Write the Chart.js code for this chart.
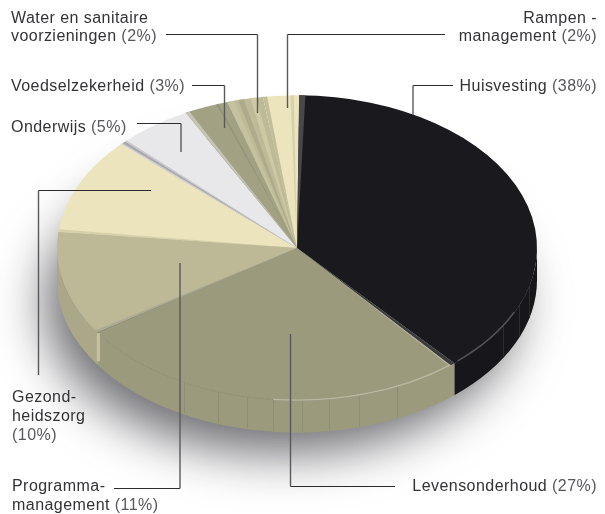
<!DOCTYPE html>
<html>
<head>
<meta charset="utf-8">
<style>
  html, body { margin: 0; padding: 0; background: #fff; }
  canvas { display: block; }
</style>
<script src="https://cdn.jsdelivr.net/npm/chart.js@4/dist/chart.umd.min.js"></script>
</head>
<body>
<canvas id="myChart" width="605" height="514"></canvas>
<script>
const categories = [
  "Huisvesting",
  "Levensonderhoud",
  "Programmamanagement",
  "Gezondheidszorg",
  "Onderwijs",
  "Voedselzekerheid",
  "Water en sanitaire voorzieningen",
  "Rampenmanagement",
];
// they round to the printed percentages
const shares = [38.4, 26.9, 11.1, 10.2, 5.4, 3.0, 2.4, 2.4];
const topColours = ["#1a191e", "#9b9a7d", "#bdb997", "#ebe4bc", "#e8e8ea", "#a3a183", "#bdba98", "#ebe4bc"];
const wallColours = ["#17161a", "#9b9a7d", "#aaa888", "#aaa888", "#aaa888", "#aaa888", "#aaa888", "#aaa888"];

// squash of the pie and height of its wall
const squash = 0.636;
const wallDepth = 31;

// thin bevels on the slices: slice index, offset and width in degrees, colour
const bevels = [
  [0, 0, 1.5, "#47474c"],
  [1, 0, 1.2, "#3b3b40"],
  [1, 1.2, 0.4, "#b3b29a"],
  [2, 0, 0.5, "#8f8e78"],
  [2, 0.5, 0.7, "#acaa94"],
  [3, 0, 1.0, "#d6d0ab"],
  [4, 0, 0.5, "#cfcfd2"],
  [4, 0.5, 0.9, "#a9a9ae"],
  [4, 1.4, 0.5, "#c8c8cc"],
  [5, 0, 1.0, "#c4c3b4"],
  [5, 8, 0.5, "#959378"],
  [6, 0, 1.6, "#c5c2a0"],
  [6, 2.6, 1.4, "#adab8b"],
  [6, 5.6, 1.4, "#cdc9a5"],
  [7, 0, 1.0, "#c2be9c"],
  [7, 6.6, 0.8, "#d6d1ac"],
];

// wall seams, by the x where they meet the rim
const tanSeams = [184, 218, 247, 273, 302, 329, 359, 397];
const blackSeams = [503, 519, 529];

// label rows: name part, percent part, x, baseline, side
const labelRows = [
  ["Water en sanitaire", "", 11, 23, "left"],
  ["voorzieningen", "(2%)", 11, 41, "left"],
  ["Voedselzekerheid", "(3%)", 11, 91, "left"],
  ["Onderwijs", "(5%)", 11, 132, "left"],
  ["Gezond-", "", 12, 402, "left"],
  ["heidszorg", "", 12, 421, "left"],
  ["", "(10%)", 12, 440, "left"],
  ["Programma-", "", 12, 491, "left"],
  ["management", "(11%)", 12, 510, "left"],
  ["Rampen -", "", 597, 23, "right"],
  ["management", "(2%)", 597, 41, "right"],
  ["Huisvesting", "(38%)", 597, 91, "right"],
  ["Levensonderhoud", "(27%)", 597, 491, "right"],
];

const leaderLines = [
  [[166, 34.5], [257.5, 34.5], [257.5, 113]],
  [[445, 34.5], [287.5, 34.5], [287.5, 108]],
  [[192, 85.5], [224.5, 85.5], [224.5, 128]],
  [[137, 123.5], [181, 123.5], [181, 152]],
  [[151, 190.5], [38.5, 190.5], [38.5, 375]],
  [[114, 488.5], [180, 488.5], [180, 263]],
  [[395, 486.5], [290.5, 486.5], [290.5, 334]],
  [[453, 85.5], [413, 85.5], [413, 115]],
];

const pie3d = {
  id: "pie3d",
  beforeDatasetsDraw(chart) {
    const ctx = chart.ctx;
    const arcs = chart.getDatasetMeta(0).data;
    const { x, y, outerRadius } = arcs[0];

    // soft shadow under the pie, the ellipse itself stays hidden behind it
    ctx.save();
    ctx.shadowColor = "rgba(20, 20, 28, 0.62)";
    ctx.shadowBlur = 50;
    ctx.shadowOffsetX = -16;
    ctx.shadowOffsetY = 26;
    ctx.fillStyle = "#888";
    ctx.beginPath();
    ctx.ellipse(x, y + wallDepth - 2, outerRadius - 4, outerRadius * squash - 2, 0, 0, Math.PI * 2);
    ctx.fill();
    ctx.restore();

    ctx.save();
    ctx.translate(x, y);
    ctx.scale(1, squash);
    ctx.translate(-x, -y);

    // front wall of each slice
    arcs.forEach((arc, i) => {
      const a = Math.max(arc.startAngle, 0);
      const b = Math.min(arc.endAngle, Math.PI);
      if (b <= a) return;
      ctx.fillStyle = wallColours[i];
      ctx.beginPath();
      ctx.arc(x, y, outerRadius, a, b);
      ctx.arc(x, y + (wallDepth + 1) / squash, outerRadius, b, a, true);
      ctx.closePath();
      ctx.fill();
    });
    ctx.restore();

    // the arcs themselves get drawn squashed
    ctx.save();
    ctx.translate(x, y);
    ctx.scale(1, squash);
    ctx.translate(-x, -y);
  },
  afterDatasetsDraw(chart) {
    const ctx = chart.ctx;
    ctx.restore();

    const arcs = chart.getDatasetMeta(0).data;
    const { x, y, outerRadius } = arcs[0];
    const point = (angle, r) => [x + r * Math.cos(angle), y + r * squash * Math.sin(angle)];
    const rimY = (px) => y + squash * Math.sqrt(outerRadius * outerRadius - (px - x) * (px - x));

    bevels.forEach(([i, offset, width, colour]) => {
      const a = arcs[i].startAngle + (offset * Math.PI) / 180;
      const p1 = point(a, outerRadius);
      const p2 = point(a + (width * Math.PI) / 180, outerRadius);
      ctx.fillStyle = colour;
      ctx.beginPath();
      ctx.moveTo(x, y);
      ctx.lineTo(p1[0], p1[1]);
      ctx.lineTo(p2[0], p2[1]);
      ctx.closePath();
      ctx.fill();
    });

    // seams in the wall
    ctx.lineWidth = 1;
    const seam = (px, colour) => {
      ctx.strokeStyle = colour;
      ctx.beginPath();
      ctx.moveTo(px + 0.5, rimY(px));
      ctx.lineTo(px + 0.5, rimY(px) + wallDepth);
      ctx.stroke();
    };
    tanSeams.forEach((px) => seam(px, "#8f8e73"));
    blackSeams.forEach((px) => seam(px, "#2c2c30"));

    // lit and dotted parts of the rim, along the library's own arcs
    const rimArc = (from, to, colour, width, dash) => {
      ctx.save();
      ctx.strokeStyle = colour;
      ctx.lineWidth = width;
      ctx.setLineDash(dash);
      ctx.beginPath();
      ctx.ellipse(x, y, outerRadius - 0.5, outerRadius * squash - 0.5, 0, from, to);
      ctx.stroke();
      ctx.restore();
    };
    const levens = arcs[1];
    const black = arcs[0];
    rimArc(levens.startAngle + 0.02, Math.PI / 2 + 0.1, "#b9b8a0", 1.3, []);
    rimArc(Math.PI / 2 + 0.1, levens.endAngle - 0.05, "#8d8c72", 1, [1, 2]);
    rimArc(black.endAngle - 0.42, black.endAngle - 0.02, "#505055", 1.5, []);

    // lighter sliver where the lower slice steps out
    const corner = point(levens.endAngle, outerRadius);
    ctx.fillStyle = "#c5c2a0";
    ctx.fillRect(corner[0] - 1, corner[1], 3, wallDepth - 3);

    // leader lines: darker horizontals, softer verticals
    ctx.lineCap = "butt";
    leaderLines.forEach((line) => {
      line.slice(1).forEach(([px, py], i) => {
        const [qx, qy] = line[i];
        const flat = py === qy;
        ctx.strokeStyle = flat ? "#2b2b2e" : "#59595c";
        ctx.lineWidth = flat ? 1 : 1.4;
        ctx.beginPath();
        ctx.moveTo(qx, qy);
        ctx.lineTo(px, py);
        ctx.stroke();
      });
    });

    ctx.font = '16px "Liberation Sans"';
    ctx.letterSpacing = "0.45px";
    ctx.textBaseline = "alphabetic";
    ctx.textAlign = "left";
    labelRows.forEach(([name, pct, px, py, side]) => {
      const full = name && pct ? name + " " : name;
      const nameWidth = ctx.measureText(full).width;
      const pctWidth = ctx.measureText(pct).width;
      const startX = side === "right" ? px - nameWidth - pctWidth : px;
      ctx.fillStyle = "#333336";
      ctx.fillText(full, startX, py);
      ctx.fillStyle = "#58585c";
      ctx.fillText(pct, startX + nameWidth, py);
    });
  },
};

new Chart("myChart", {
  type: "pie",
  data: {
    labels: categories,
    datasets: [
      {
        data: shares,
        backgroundColor: topColours,
        borderWidth: 0,
      },
    ],
  },
  options: {
    responsive: false,
    animation: false,
    rotation: 0.5,
    layout: { padding: { left: 0, right: 11, top: 8, bottom: 26 } },
    plugins: { legend: { display: false }, tooltip: { enabled: false } },
  },
  plugins: [pie3d],
});
</script>
</body>
</html>
